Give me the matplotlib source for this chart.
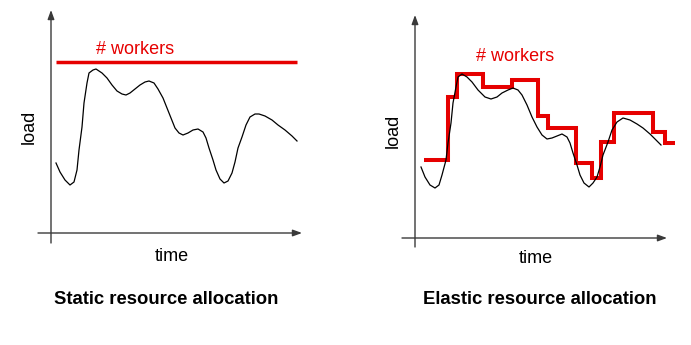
import matplotlib
matplotlib.use("Agg")
import matplotlib.pyplot as plt

plt.rcParams['font.family'] = ['Liberation Sans', 'DejaVu Sans']

W, H = 691, 345

# ---------------- data ----------------
panel_titles = ["Static resource allocation", "Elastic resource allocation"]
x_label = "time"
y_label = "load"
workers_label = "# workers"

# Static panel: load curve (time, load) and constant worker count
static_time = [5, 9, 14, 19, 23, 26, 28, 31, 33, 36, 38, 42, 45, 51, 56, 61, 66, 71, 75,
               79, 84, 89, 94, 98, 103, 107, 112, 116, 120, 124, 128, 132, 137, 142, 147,
               152, 155, 158, 162, 165, 169, 173, 177, 181, 184, 187, 191, 195, 199, 204,
               208, 214, 221, 227, 234, 241, 246]
static_load = [70, 61, 53, 48, 51, 63, 83, 106, 130, 150, 160, 163, 164, 160, 155, 148, 142,
               139, 138, 140, 144, 148, 151, 152, 150, 144, 135, 125, 115, 105, 100, 98, 100,
               103, 104, 101, 95, 85, 73, 63, 54, 50, 52, 60, 71, 85, 96, 108, 116, 119, 119,
               117, 113, 108, 103, 97, 92]
static_workers_time = [5, 246]
static_workers = [171, 171]

# Elastic panel: load curve and stepwise worker count
elastic_time = [6, 10, 15, 20, 24, 27, 31, 33, 36, 38, 41, 43, 47, 52, 57, 63, 70, 76, 82,
                87, 93, 98, 103, 107, 112, 117, 122, 127, 132, 137, 142, 147, 152, 155, 158,
                162, 165, 169, 174, 178, 182, 185, 188, 193, 197, 202, 208, 215, 222, 228,
                235, 241, 246]
elastic_load = [71, 61, 53, 50, 53, 63, 78, 95, 115, 135, 151, 161, 164, 161, 156, 148, 141,
                139, 141, 145, 148, 150, 148, 143, 133, 121, 111, 103, 99, 100, 102, 104, 101,
                95, 85, 73, 63, 55, 51, 55, 61, 71, 83, 96, 108, 116, 120, 118, 114, 110, 104,
                98, 93]
elastic_step_edges = [9, 33, 42, 68, 97, 123, 133, 161, 177, 186, 199, 238, 250, 260]
elastic_workers = [78, 141, 164, 151, 158, 122, 110, 75, 60, 96, 125, 106, 95]

# ---------------- drawing ----------------
RED = '#e60000'
AXC = '#3a3a3a'
FS = 13

fig = plt.figure(figsize=(W / 100, H / 100), dpi=100)


def px_axes(x0, y0, x1, y1):
    return fig.add_axes([x0 / W, 1 - y1 / H, (x1 - x0) / W, (y1 - y0) / H])


def ftext(x, y, s, **kw):
    fig.text(x / W, 1 - y / H, s, **kw)


def draw_axes_arrows(ax, ymin, ymax, xmin, xmax):
    ap = dict(arrowstyle='-|>,head_length=0.6,head_width=0.22', color=AXC, lw=1.0,
              shrinkA=0, shrinkB=0, mutation_scale=9)
    ax.annotate('', xy=(0, ymax), xytext=(0, ymin), arrowprops=ap, annotation_clip=False)
    ax.annotate('', xy=(xmax, 0), xytext=(xmin, 0), arrowprops=ap, annotation_clip=False)


# Left panel
ax1 = px_axes(30, 0, 310, 250)
ax1.set_xlim(-21, 259)
ax1.set_ylim(-17, 233)
ax1.axis('off')
draw_axes_arrows(ax1, -10, 223, -13, 251)
ax1.plot(static_time, static_load, color='black', lw=0.9, solid_joinstyle='round')
ax1.plot(static_workers_time, static_workers, color=RED, lw=2.5, solid_capstyle='butt')

# Right panel
ax2 = px_axes(395, 0, 685, 255)
ax2.set_xlim(-20, 270)
ax2.set_ylim(-17, 238)
ax2.axis('off')
draw_axes_arrows(ax2, -9, 223, -13, 252)
ax2.plot(elastic_time, elastic_load, color='black', lw=0.9, solid_joinstyle='round')
ax2.stairs(elastic_workers, elastic_step_edges, baseline=None, color=RED, lw=2.9)

# Texts
ftext(96, 54, workers_label, color=RED, fontsize=FS, ha='left', va='baseline')
ftext(476, 61, workers_label, color=RED, fontsize=FS, ha='left', va='baseline')
ftext(172, 261, x_label, fontsize=FS, ha='center', va='baseline')
ftext(536, 263, x_label, fontsize=FS, ha='center', va='baseline')
ftext(29, 127, y_label, fontsize=FS, rotation=90, ha='center', va='center')
ftext(393, 131, y_label, fontsize=FS, rotation=90, ha='center', va='center')
ftext(166, 304, panel_titles[0], fontsize=13.3, fontweight='bold', ha='center', va='baseline')
ftext(540, 304, panel_titles[1], fontsize=13.3, fontweight='bold', ha='center', va='baseline')

fig.savefig('out.png', dpi=100, facecolor='white')
